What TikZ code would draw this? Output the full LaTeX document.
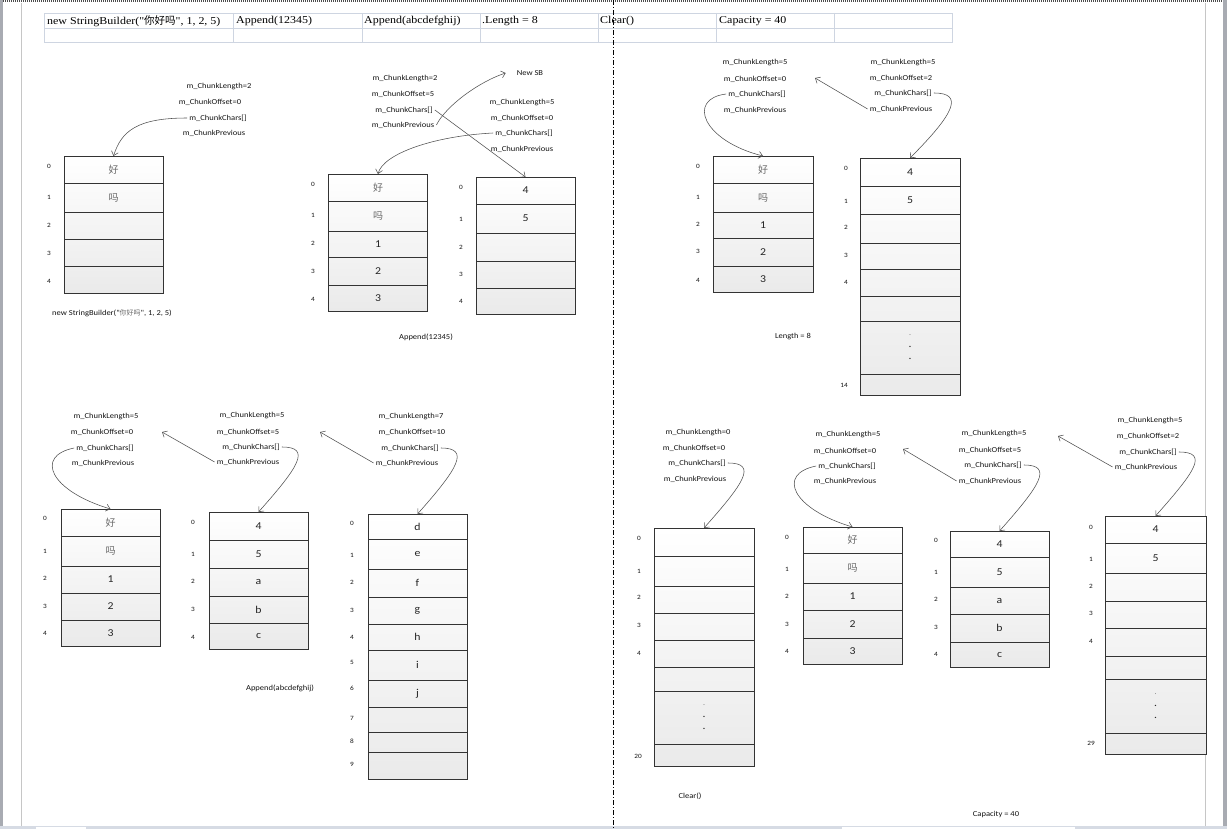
\documentclass[tikz,border=0pt]{standalone}
\usepackage{fontspec}
\setmainfont{Liberation Serif}
\newfontfamily\lblfont{Carlito}[FakeStretch=1.12]
\newfontfamily\hdrfont{Liberation Serif}[FakeStretch=1.14]
\newfontfamily\cjk{Noto Sans CJK SC}
\usetikzlibrary{arrows.meta}
\definecolor{tblline}{RGB}{206,213,225}
\definecolor{lbltext}{RGB}{20,20,20}
\definecolor{ptrgray}{RGB}{80,80,80}
\definecolor{cellshade}{RGB}{234,234,234}
\definecolor{cjkgray}{RGB}{105,105,105}
\definecolor{chromebar}{RGB}{168,171,178}
\definecolor{chromeband}{RGB}{214,219,228}
\definecolor{pageedge}{RGB}{198,198,198}
\tikzset{
  cell/.style={rectangle, draw=black!80, line width=0.6pt, minimum width=99,
    inner sep=0pt, outer sep=0pt, align=center,
    font=\lblfont\fontsize{10.5}{12}\selectfont, text=black!85},
  colfill/.style={top color=white, bottom color=cellshade},
  idx/.style={inner sep=0pt, font=\lblfont\fontsize{6.5}{8}\selectfont, text=lbltext},
  lbl/.style={inner sep=2pt, font=\lblfont\fontsize{7.6}{9}\selectfont, text=lbltext},
  hdr/.style={anchor=west, inner sep=0pt, font=\hdrfont\fontsize{10.5}{12}\selectfont},
  ptr/.style={-{Straight Barb[length=4pt, width=7pt]}, color=ptrgray, line width=0.55pt}
}
\newcommand{\hz}[1]{{\cjk\fontsize{10}{12}\selectfont\color{cjkgray}#1}}
\newcommand{\hzs}[1]{{\cjk\fontsize{7}{9}\selectfont\color{cjkgray}#1}}
\newcommand{\dotstack}{\fontsize{7}{13}\selectfont\color{black!60}.\\.\\.}

\begin{document}
\begin{tikzpicture}[x=1pt, y=-1pt]
  \useasboundingbox (0,0) rectangle (1227,829);
  \fill[white] (0,0) rectangle (1227,829);

  % window and page edges
  \fill[chromebar] (0,0) rectangle (3,829);
  \fill[chromebar] (1223,0) rectangle (1227,829);
  \draw[pageedge, line width=0.8pt] (21,3) -- (21,826);
  \draw[pageedge, line width=0.8pt] (1205,3) -- (1205,826);
  \draw[black!70, line width=2pt, dash pattern=on 1pt off 1pt] (3,1) -- (1223,1);
  \fill[chromeband] (0,826) rectangle (1227,829);
  \fill[white] (36,826.5) rectangle (86,829);
  \fill[white] (842,826.5) rectangle (1075,829);

  % header table
  \draw[tblline, line width=0.8pt] (44,13) rectangle (952,42);
  \draw[tblline, line width=0.8pt] (44,28) -- (952,28);
  \foreach \x in {233,362,480,598,716,834}
    \draw[tblline, line width=0.8pt] (\x,13) -- (\x,42);
  \node[hdr] (h1) at (47,21) {new StringBuilder("{\cjk 你好吗}", 1, 2, 5)};
  \node[hdr] (h2) at (236,21) {Append(12345)};
  \node[hdr] (h3) at (364,21) {Append(abcdefghij)};
  \node[hdr] (h4) at (482,21) {.Length = 8};
  \node[hdr] (h5) at (600,21) {Clear()};
  \node[hdr] (h6) at (719,21) {Capacity = 40};

  % ---- new StringBuilder ----
  \shade[colfill] (64,156) rectangle (163,293);
  \foreach \ya/\yb/\t [count=\k from 0] in {156/183/\hz{好}, 183/212/\hz{吗}, 212/239/{}, 239/266/{}, 266/293/{}}
    \node[cell, minimum height={\yb-\ya}] (p1c\k) at (113.5,{(\ya+\yb)/2}) {\t};
  \foreach \y [count=\k from 0] in {166,197,225,253,281}
    \node[idx] (p1i\k) at (49,\y) {\k};
  \node[lbl] (p1len) at (219,87) {m\_ChunkLength=2};
  \node[lbl] (p1off) at (210,102) {m\_ChunkOffset=0};
  \node[lbl] (p1chr) at (218,118) {m\_ChunkChars[]};
  \node[lbl] (p1prv) at (214,133) {m\_ChunkPrevious};
  \node[lbl] (p1cap) at (112,313) {new StringBuilder("\hzs{你好吗}", 1, 2, 5)};
  \draw[ptr] (p1chr.west) .. controls +(-50,0) and +(8,-25) .. (p1c0.north);

  % ---- Append(12345) ----
  \shade[colfill] (329,174) rectangle (428,311);
  \foreach \ya/\yb/\t [count=\k from 0] in {174/201/\hz{好}, 201/231/\hz{吗}, 231/257/1, 257/285/2, 285/311/3}
    \node[cell, minimum height={\yb-\ya}] (p2l\k) at (378,{(\ya+\yb)/2}) {\t};
  \foreach \y [count=\k from 0] in {184,215,243,271,299}
    \node[idx] (p2li\k) at (313,\y) {\k};
  \shade[colfill] (476,177) rectangle (575,314);
  \foreach \ya/\yb/\t [count=\k from 0] in {177/204/4, 204/233/5, 233/261/{}, 261/288/{}, 288/314/{}}
    \node[cell, minimum height={\yb-\ya}] (p2r\k) at (525.5,{(\ya+\yb)/2}) {\t};
  \foreach \y [count=\k from 0] in {187,219,247,274,301}
    \node[idx] (p2ri\k) at (461,\y) {\k};
  \node[lbl] (p2alen) at (405,79) {m\_ChunkLength=2};
  \node[lbl] (p2aoff) at (403,94) {m\_ChunkOffset=5};
  \node[lbl] (p2achr) at (404,110) {m\_ChunkChars[]};
  \node[lbl] (p2aprv) at (403,125) {m\_ChunkPrevious};
  \node[lbl] (p2blen) at (522,103) {m\_ChunkLength=5};
  \node[lbl] (p2boff) at (522,118) {m\_ChunkOffset=0};
  \node[lbl] (p2bchr) at (524,133) {m\_ChunkChars[]};
  \node[lbl] (p2bprv) at (522,149) {m\_ChunkPrevious};
  \node[lbl] (p2new) at (530,73) {New SB};
  \node[lbl] (p2cap) at (426,337) {Append(12345)};
  \draw[ptr] (p2aprv.east) .. controls +(10,-20) and +(-25,8) .. ([xshift=-9pt]p2new.west);
  \draw[ptr] (p2achr.east) -- (p2r0.north);
  \draw[ptr] (p2bchr.west) .. controls +(-60,3) and +(5,-20) .. (p2l0.north);

  % ---- Length = 8 ----
  \shade[colfill] (713,156) rectangle (813,292);
  \foreach \ya/\yb/\t [count=\k from 0] in {156/183/\hz{好}, 183/212/\hz{吗}, 212/238/1, 238/266/2, 266/292/3}
    \node[cell, minimum width=100, minimum height={\yb-\ya}] (p3l\k) at (763,{(\ya+\yb)/2}) {\t};
  \foreach \y [count=\k from 0] in {166,197,224,251,280}
    \node[idx] (p3li\k) at (698,\y) {\k};
  \shade[colfill] (860,158) rectangle (960,395);
  \foreach \ya/\yb/\t [count=\k from 0] in {158/186/4, 186/214/5, 214/243/{}, 243/269/{}, 269/296/{}, 296/321/{}, 321/374/\dotstack, 374/395/{}}
    \node[cell, minimum width=100, minimum height={\yb-\ya}] (p3r\k) at (910,{(\ya+\yb)/2}) {\t};
  \foreach \y [count=\k from 0] in {168,201,227,255,282}
    \node[idx] (p3ri\k) at (846,\y) {\k};
  \node[idx] (p3ri14) at (844,385) {14};
  \node[lbl] (p3alen) at (755,63) {m\_ChunkLength=5};
  \node[lbl] (p3aoff) at (755,79) {m\_ChunkOffset=0};
  \node[lbl] (p3achr) at (757,94) {m\_ChunkChars[]};
  \node[lbl] (p3aprv) at (755,110) {m\_ChunkPrevious};
  \node[lbl] (p3blen) at (903,63) {m\_ChunkLength=5};
  \node[lbl] (p3boff) at (901,78) {m\_ChunkOffset=2};
  \node[lbl] (p3bchr) at (903,93) {m\_ChunkChars[]};
  \node[lbl] (p3bprv) at (901,109) {m\_ChunkPrevious};
  \node[lbl] (p3cap) at (793,337) {Length = 8};
  \coordinate (p3back) at (815,78);
  \draw[ptr] (p3bprv.west) -- (p3back);
  \draw[ptr] (p3bchr.east) .. controls +(30,0) and +(45,-45) .. (p3r0.north);
  \draw[ptr] (p3achr.west) .. controls +(-40,5) and +(-60,-15) .. (p3l0.north);

  % ---- Append(abcdefghij) ----
  \shade[colfill] (61,509) rectangle (160,646);
  \foreach \ya/\yb/\t [count=\k from 0] in {509/536/\hz{好}, 536/566/\hz{吗}, 566/593/1, 593/620/2, 620/646/3}
    \node[cell, minimum height={\yb-\ya}] (p4a\k) at (110.5,{(\ya+\yb)/2}) {\t};
  \foreach \y [count=\k from 0] in {518,551,578,606,633}
    \node[idx] (p4ai\k) at (45,\y) {\k};
  \shade[colfill] (209,512) rectangle (308,649);
  \foreach \ya/\yb/\t [count=\k from 0] in {512/540/4, 540/568/5, 568/596/a, 596/623/b, 623/649/c}
    \node[cell, minimum height={\yb-\ya}] (p4b\k) at (258.5,{(\ya+\yb)/2}) {\t};
  \foreach \y [count=\k from 0] in {522,554,581,609,637}
    \node[idx] (p4bi\k) at (193,\y) {\k};
  \shade[colfill] (368,514) rectangle (467,779);
  \foreach \ya/\yb/\t [count=\k from 0] in {514/539/d, 539/569/e, 569/597/f, 597/624/g, 624/650/h, 650/680/i, 680/707/j, 707/732/{}, 732/752/{}, 752/779/{}}
    \node[cell, minimum height={\yb-\ya}] (p4c\k) at (417.5,{(\ya+\yb)/2}) {\t};
  \foreach \y [count=\k from 0] in {523,555,582,610,637,662,688,718,741,764}
    \node[idx] (p4ci\k) at (352,\y) {\k};
  \node[lbl] (p4alen) at (106,417) {m\_ChunkLength=5};
  \node[lbl] (p4aoff) at (102,432) {m\_ChunkOffset=0};
  \node[lbl] (p4achr) at (105,448) {m\_ChunkChars[]};
  \node[lbl] (p4aprv) at (103,463) {m\_ChunkPrevious};
  \node[lbl] (p4blen) at (252,416) {m\_ChunkLength=5};
  \node[lbl] (p4boff) at (248,432) {m\_ChunkOffset=5};
  \node[lbl] (p4bchr) at (251,447) {m\_ChunkChars[]};
  \node[lbl] (p4bprv) at (248,462) {m\_ChunkPrevious};
  \node[lbl] (p4clen) at (411,417) {m\_ChunkLength=7};
  \node[lbl] (p4coff) at (412,432) {m\_ChunkOffset=10};
  \node[lbl] (p4cchr) at (410,448) {m\_ChunkChars[]};
  \node[lbl] (p4cprv) at (407,463) {m\_ChunkPrevious};
  \node[lbl] (p4cap) at (280,688) {Append(abcdefghij)};
  \draw[ptr] (p4achr.west) .. controls +(-40,8) and +(-60,-18) .. (p4a0.north);
  \coordinate (p4bback) at (162,432);
  \draw[ptr] (p4bprv.west) -- (p4bback);
  \draw[ptr] (p4bchr.east) .. controls +(30,0) and +(40,-45) .. (p4b0.north);
  \coordinate (p4cback) at (320,432);
  \draw[ptr] (p4cprv.west) -- (p4cback);
  \draw[ptr] (p4cchr.east) .. controls +(30,0) and +(40,-45) .. (p4c0.north);

  % ---- Clear() / Capacity = 40 ----
  \shade[colfill] (654,528) rectangle (754,766);
  \foreach \ya/\yb/\t [count=\k from 0] in {528/556/{}, 556/586/{}, 586/613/{}, 613/640/{}, 640/667/{}, 667/691/{}, 691/744/\dotstack, 744/766/{}}
    \node[cell, minimum width=100, minimum height={\yb-\ya}] (p5d\k) at (704,{(\ya+\yb)/2}) {\t};
  \foreach \y [count=\k from 0] in {538,571,597,625,653}
    \node[idx] (p5di\k) at (639,\y) {\k};
  \node[idx] (p5di20) at (638,756) {20};
  \shade[colfill] (803,527) rectangle (902,664);
  \foreach \ya/\yb/\t [count=\k from 0] in {527/553/\hz{好}, 553/583/\hz{吗}, 583/610/1, 610/638/2, 638/664/3}
    \node[cell, minimum height={\yb-\ya}] (p5e\k) at (852.5,{(\ya+\yb)/2}) {\t};
  \foreach \y [count=\k from 0] in {537,569,596,624,651}
    \node[idx] (p5ei\k) at (787,\y) {\k};
  \shade[colfill] (950,531) rectangle (1049,667);
  \foreach \ya/\yb/\t [count=\k from 0] in {531/557/4, 557/587/5, 587/614/a, 614/642/b, 642/667/c}
    \node[cell, minimum height={\yb-\ya}] (p5f\k) at (999.5,{(\ya+\yb)/2}) {\t};
  \foreach \y [count=\k from 0] in {540,572,599,627,654}
    \node[idx] (p5fi\k) at (936,\y) {\k};
  \shade[colfill] (1105,516) rectangle (1206,754);
  \foreach \ya/\yb/\t [count=\k from 0] in {516/543/4, 543/573/5, 573/601/{}, 601/628/{}, 628/656/{}, 656/679/{}, 679/733/\dotstack, 733/754/{}}
    \node[cell, minimum width=101, minimum height={\yb-\ya}] (p5g\k) at (1155.5,{(\ya+\yb)/2}) {\t};
  \foreach \y [count=\k from 0] in {527,559,586,613,641}
    \node[idx] (p5gi\k) at (1091,\y) {\k};
  \node[idx] (p5gi29) at (1091,743) {29};
  \node[lbl] (p5dlen) at (698,433) {m\_ChunkLength=0};
  \node[lbl] (p5doff) at (694,448) {m\_ChunkOffset=0};
  \node[lbl] (p5dchr) at (697,463) {m\_ChunkChars[]};
  \node[lbl] (p5dprv) at (695,479) {m\_ChunkPrevious};
  \node[lbl] (p5elen) at (848,435) {m\_ChunkLength=5};
  \node[lbl] (p5eoff) at (845,451) {m\_ChunkOffset=0};
  \node[lbl] (p5echr) at (847,466) {m\_ChunkChars[]};
  \node[lbl] (p5eprv) at (845,481) {m\_ChunkPrevious};
  \node[lbl] (p5flen) at (994,434) {m\_ChunkLength=5};
  \node[lbl] (p5foff) at (990,450) {m\_ChunkOffset=5};
  \node[lbl] (p5fchr) at (993,465) {m\_ChunkChars[]};
  \node[lbl] (p5fprv) at (990,481) {m\_ChunkPrevious};
  \node[lbl] (p5glen) at (1150,421) {m\_ChunkLength=5};
  \node[lbl] (p5goff) at (1148,436) {m\_ChunkOffset=2};
  \node[lbl] (p5gchr) at (1148,452) {m\_ChunkChars[]};
  \node[lbl] (p5gprv) at (1146,467) {m\_ChunkPrevious};
  \node[lbl] (p5cap1) at (690,796) {Clear()};
  \node[lbl] (p5cap2) at (996,814) {Capacity = 40};
  \draw[ptr] (p5dchr.east) .. controls +(30,0) and +(40,-45) .. (p5d0.north);
  \draw[ptr] (p5echr.west) .. controls +(-40,8) and +(-60,-18) .. (p5e0.north);
  \coordinate (p5fback) at (903,449);
  \draw[ptr] (p5fprv.west) -- (p5fback);
  \draw[ptr] (p5fchr.east) .. controls +(30,0) and +(40,-45) .. (p5f0.north);
  \coordinate (p5gback) at (1058,436);
  \draw[ptr] (p5gprv.west) -- (p5gback);
  \draw[ptr] (p5gchr.east) .. controls +(30,0) and +(40,-45) .. (p5g0.north);

  % page break
  \draw[black, line width=0.7pt, dash pattern=on 5pt off 2pt on 1pt off 2pt] (613,0) -- (613,829);
\end{tikzpicture}
\end{document}
